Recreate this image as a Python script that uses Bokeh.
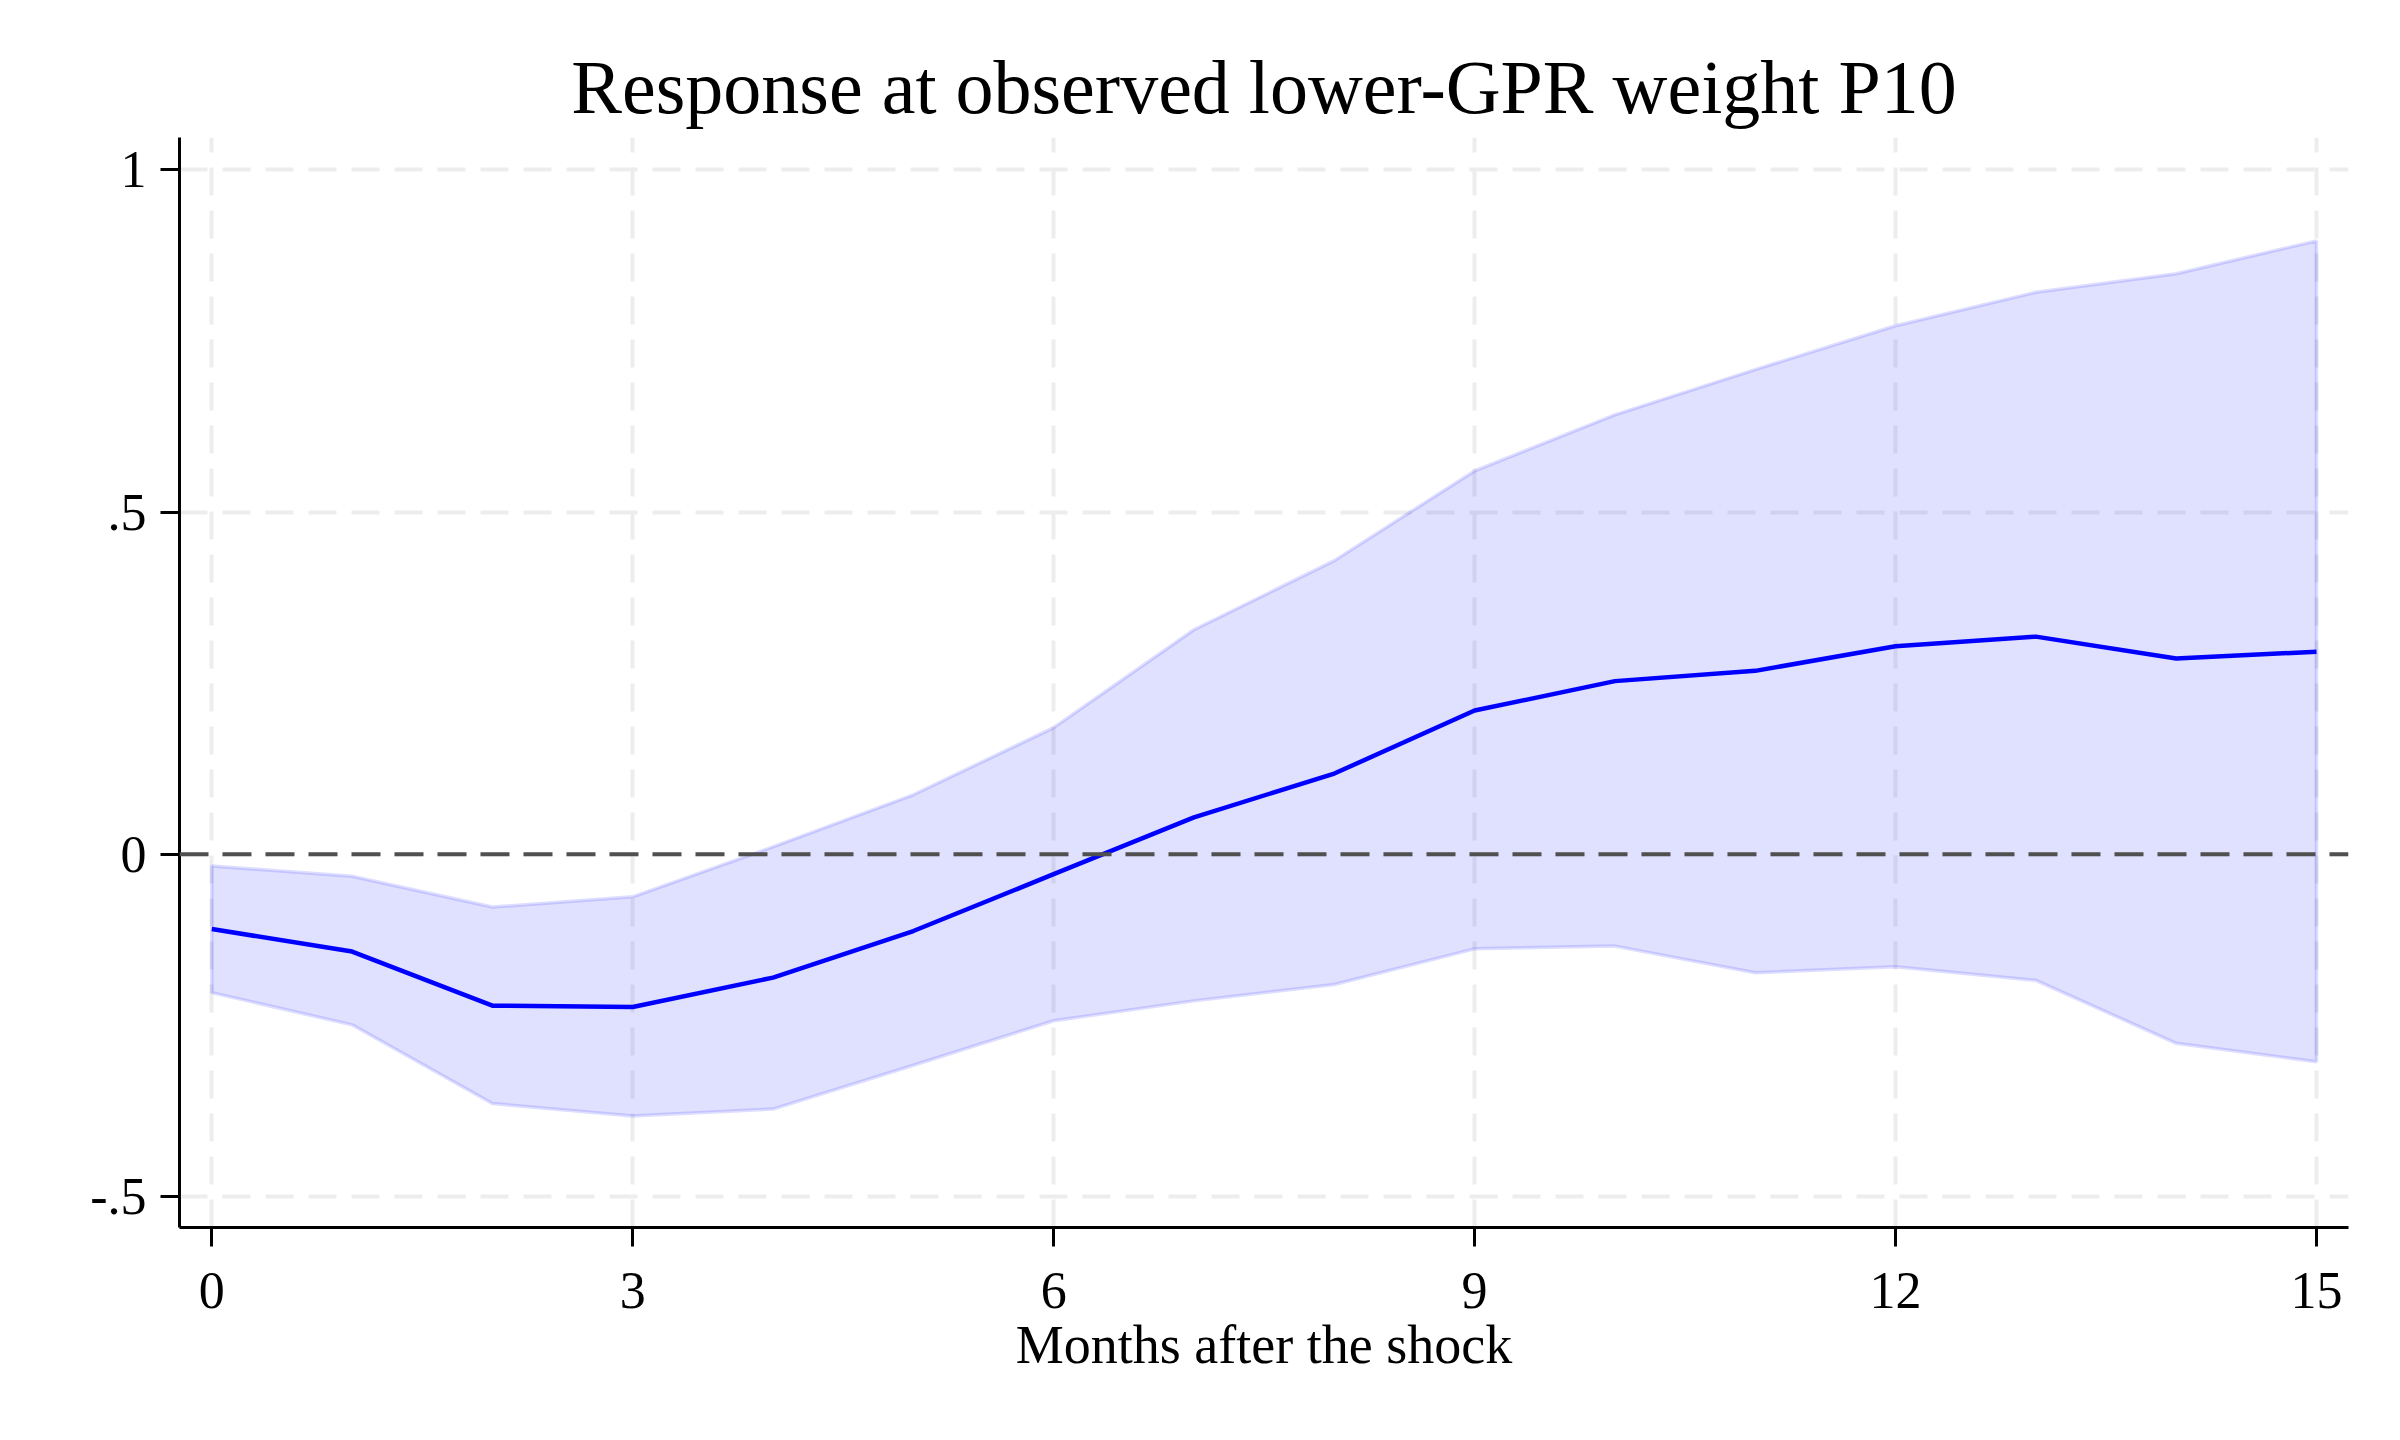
from bokeh.plotting import figure
from bokeh.models import Range1d, FixedTicker, Span
from bokeh.embed import file_html
from bokeh.resources import INLINE

months = list(range(16))
irf = [-0.109, -0.142, -0.221, -0.223, -0.180, -0.112, -0.029, 0.054,
       0.118, 0.210, 0.253, 0.268, 0.304, 0.318, 0.286, 0.296]
upper = [-0.017, -0.032, -0.077, -0.062, 0.011, 0.087, 0.185, 0.328,
         0.429, 0.560, 0.642, 0.708, 0.772, 0.821, 0.848, 0.896]
lower = [-0.202, -0.249, -0.364, -0.382, -0.372, -0.308, -0.243, -0.214,
         -0.190, -0.138, -0.134, -0.173, -0.164, -0.184, -0.276, -0.303]

x_ticks = [0, 3, 6, 9, 12, 15]
y_ticks = [-0.5, 0, 0.5, 1]
y_tick_labels = {-0.5: "-.5", 0: "0", 0.5: ".5", 1: "1"}

title_text = "Response at observed lower-GPR weight P10"
x_label = "Months after the shock"

FONT = "Liberation Serif"

p = figure(width=2384, height=1424, output_backend="svg", toolbar_location=None,
           x_range=Range1d(-0.23, 15.228), y_range=Range1d(-0.545, 1.047),
           min_border_left=179, min_border_right=36, min_border_top=137,
           min_border_bottom=197, background_fill_color="white",
           border_fill_color="white")
p.outline_line_color = None

p.title.text = title_text
p.title.text_font = FONT
p.title.text_font_size = "76px"
p.title.text_font_style = "normal"
p.title.align = "center"
p.title.text_color = "black"
p.title.standoff = 18

# grids
for g in (p.xgrid, p.ygrid):
    g.grid_line_color = "#EDEDED"
    g.grid_line_width = 4
    g.grid_line_dash = "28 15"
p.xgrid.ticker = FixedTicker(ticks=x_ticks)
p.ygrid.ticker = FixedTicker(ticks=y_ticks)

# axes
p.xaxis.ticker = FixedTicker(ticks=x_ticks)
p.yaxis.ticker = FixedTicker(ticks=y_ticks)
p.yaxis.major_label_overrides = y_tick_labels
for ax in (p.xaxis, p.yaxis):
    ax.axis_line_width = 3
    ax.axis_line_color = "black"
    ax.major_tick_line_width = 3
    ax.major_tick_line_color = "black"
    ax.major_tick_in = 0
    ax.major_tick_out = 19
    ax.minor_tick_line_color = None
    ax.major_label_text_font = FONT
    ax.major_label_text_font_size = "52px"
    ax.major_label_text_color = "black"
p.yaxis.major_label_orientation = "horizontal"
p.xaxis.major_label_standoff = 26
p.yaxis.major_label_standoff = 14
p.xaxis.axis_label = x_label
p.xaxis.axis_label_text_font = FONT
p.xaxis.axis_label_text_font_size = "54px"
p.xaxis.axis_label_text_font_style = "normal"
p.xaxis.axis_label_text_color = "black"
p.xaxis.axis_label_standoff = 4

# confidence band
band_x = months + months[::-1]
band_y = upper + lower[::-1]
p.patch(band_x, band_y, fill_color="#0000FF", fill_alpha=0.12,
        line_color="#0000FF", line_alpha=0.13, line_width=3.5)

# zero line
zero = Span(location=0, dimension="width", line_color="#505050",
            line_width=4, line_dash="29 14")
p.add_layout(zero)

# point estimate
p.line(months, irf, line_color="#0000FF", line_width=4.5)

open("out.html", "w").write(file_html(p, INLINE))
